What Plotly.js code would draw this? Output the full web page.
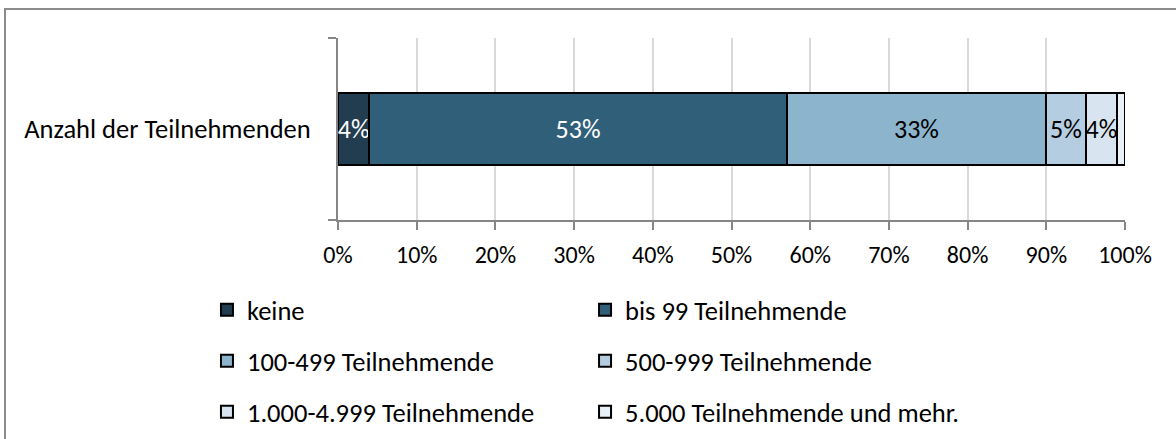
<!DOCTYPE html>
<html>
<head>
<meta charset="utf-8">
<script src="https://cdn.plot.ly/plotly-3.0.1.min.js"></script>
<style>
  html, body { margin: 0; padding: 0; background: #fff; overflow: hidden; }
  #frame { position: absolute; left: 4px; top: 8px; width: 1300px; height: 600px; border: 2px solid #8c8c8c; box-sizing: border-box; pointer-events: none; z-index: 5; }
  #chart { position: absolute; left: 0; top: 0; width: 1176px; height: 439px; }
</style>
</head>
<body>
<div id="chart"></div>
<div id="frame"></div>
<script>
const categories = ['Anzahl der Teilnehmenden'];
const seriesNames = ['keine', 'bis 99 Teilnehmende', '100-499 Teilnehmende', '500-999 Teilnehmende', '1.000-4.999 Teilnehmende', '5.000 Teilnehmende und mehr.'];
const seriesValues = [4, 53, 33, 5, 4, 1];
const labelTexts = ['4%', '53%', '33%', '5%', '4%', ''];
const seriesColors = ['#223d50', '#305f7a', '#8cb4cd', '#b4cde0', '#d8e5f0', '#e9f1f8'];
const labelColors = ['#ffffff', '#ffffff', '#000000', '#000000', '#000000', '#000000'];
const tickValues = [0, 10, 20, 30, 40, 50, 60, 70, 80, 90, 100];
const tickLabels = ['0%', '10%', '20%', '30%', '40%', '50%', '60%', '70%', '80%', '90%', '100%'];

const FONT = 'Carlito, Calibri, Lato, sans-serif';
const legendIds = ['legend', 'legend2', 'legend3', 'legend4', 'legend5', 'legend6'];

const traces = seriesNames.map((name, i) => ({
  type: 'bar',
  orientation: 'h',
  name: name,
  y: categories,
  x: [seriesValues[i]],
  text: [labelTexts[i]],
  textposition: 'inside',
  insidetextanchor: 'middle',
  constraintext: 'none',
  textangle: 0,
  textfont: { family: FONT, size: 26, color: labelColors[i] },
  marker: { color: seriesColors[i], line: { color: '#000000', width: 2 } },
  legend: legendIds[i],
  hoverinfo: 'skip'
}));

// legend placement: two columns, three rows
const colX = [-0.1665, 0.3139];
const rowY = [-0.4945, -0.7747, -1.055];
function legendAt(col, row) {
  return {
    orientation: 'v',
    xanchor: 'left',
    yanchor: 'middle',
    x: colX[col],
    y: rowY[row],
    bgcolor: 'rgba(0,0,0,0)',
    borderwidth: 0,
    font: { family: FONT, size: 26.5, color: '#000000' }
  };
}

const layout = {
  width: 1176,
  height: 439,
  margin: { l: 338, r: 51, t: 38, b: 219, pad: 0, autoexpand: false },
  paper_bgcolor: '#ffffff',
  plot_bgcolor: '#ffffff',
  barmode: 'stack',
  bargap: 0.6,
  font: { family: FONT, size: 24, color: '#000000' },
  xaxis: {
    range: [0, 100],
    tickvals: tickValues,
    ticktext: tickLabels,
    ticks: 'outside',
    ticklen: 8,
    tickwidth: 2,
    tickcolor: '#868686',
    showline: true,
    linecolor: '#868686',
    linewidth: 2,
    showgrid: true,
    gridcolor: '#d9d9d9',
    gridwidth: 2,
    zeroline: false,
    ticklabelstandoff: 4,
    tickfont: { family: FONT, size: 24, color: '#000000' },
    fixedrange: true
  },
  yaxis: {
    type: 'category',
    range: [-0.5, 0.5],
    tickson: 'boundaries',
    ticks: 'outside',
    ticklen: 8,
    tickwidth: 2,
    tickcolor: '#868686',
    showline: true,
    linecolor: '#868686',
    linewidth: 2,
    showgrid: false,
    zeroline: false,
    ticklabelstandoff: 20,
    tickfont: { family: FONT, size: 26.5, color: '#000000' },
    fixedrange: true
  },
  legend: legendAt(0, 0),
  legend2: legendAt(1, 0),
  legend3: legendAt(0, 1),
  legend4: legendAt(1, 1),
  legend5: legendAt(0, 2),
  legend6: legendAt(1, 2),
  showlegend: true
};

Plotly.newPlot('chart', traces, layout, { displayModeBar: false, staticPlot: true });
</script>
</body>
</html>
